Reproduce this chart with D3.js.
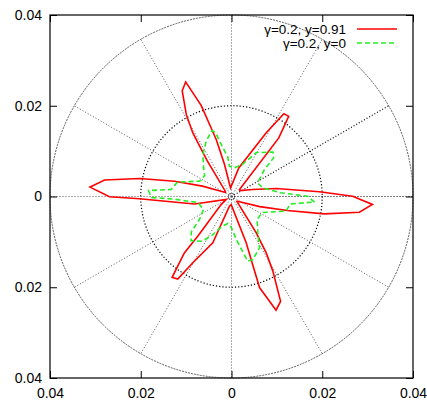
<!DOCTYPE html>
<html>
<head>
<meta charset="utf-8">
<script src="https://cdn.jsdelivr.net/npm/d3@7"></script>
<style>
body { margin: 0; background: #fff; }
text { font-family: "Liberation Sans", Arial, Helvetica, sans-serif; font-size: 14px; fill: #000; }
</style>
</head>
<body>
<svg width="427" height="400"></svg>
<script>
let svg = d3.select("svg");

// courbe 1 : angle (degres) et rayon
let redTheta = [322, 340.3, 346, 349.4, 353, 356.75, 360.1, 363.06, 370.1, 378.4, 394.6,
    401, 411.1, 414.5, 417.7, 421.4, 435.7, 456.6,
    462.3, 465, 468.4, 471.8, 475, 478.9, 481.3, 484.2, 499.5,
    506, 520.4, 525, 528.9, 532.6, 536.2, 540.1, 541.4, 545.9, 551.5, 569.5,
    577.8, 589.5, 590.1, 593.7, 596.9, 599.7, 608, 618,
    628, 647.6, 647.1, 651.4, 655.1, 659, 661.6, 664.2, 678.4, 682];
let redR = [0.0017, 0.0066, 0.0127, 0.0208, 0.0284, 0.0311, 0.0267, 0.0194, 0.0100, 0.0049, 0.0023,
    0.0023, 0.0166, 0.0217, 0.0216, 0.0160, 0.0065, 0.0019,
    0.0072, 0.0130, 0.0211, 0.0272, 0.0257, 0.0206, 0.0164, 0.0096, 0.0018,
    0.0016, 0.0068, 0.0130, 0.0206, 0.0282, 0.03125, 0.0269, 0.0203, 0.0123, 0.0083, 0.0013,
    0.0029, 0.0112, 0.0162, 0.0221, 0.0217, 0.0169, 0.0110, 0.0022,
    0.0018, 0.0107, 0.0210, 0.0269, 0.0255, 0.0188, 0.0146, 0.0097, 0.0016, 0.0017];

// courbe 2
let greenTheta = [356.2, 360.2, 364.3, 375.7, 387.8, 399.3, 402.5, 407, 420.5, 431.5, 445.4,
    453.8, 455.4, 461.2, 464, 466.5, 474.6, 484.3, 494.3, 502.1, 514.2,
    525, 533.4, 535.9, 540.7, 542.4, 550.2, 564.9,
    575.7, 581.4, 587.5, 596.6, 603.4, 612.3, 622.2,
    630, 636.6, 644.1, 648.7, 658.6, 665.9, 678, 692.3, 704.9, 712.8, 716.2];
let greenR = [0.01834, 0.01675, 0.0109, 0.0071, 0.0065, 0.0094, 0.0126, 0.0134, 0.0111, 0.0074, 0.0063,
    0.0067, 0.00875, 0.0117, 0.01454, 0.01517, 0.0134, 0.0112, 0.0088, 0.0075, 0.0078,
    0.0123, 0.0134, 0.01834, 0.01763, 0.0130, 0.0075, 0.0068,
    0.0087, 0.0118, 0.0132, 0.0118, 0.0096, 0.0069, 0.0060,
    0.0069, 0.00965, 0.0147, 0.01466, 0.0129, 0.0099, 0.0076, 0.0076, 0.0124, 0.0131, 0.01834];

let tickValues = [-0.04, -0.02, 0, 0.02, 0.04];
let tickLabels = ["0.04", "0.02", "0", "0.02", "0.04"];
let gridRadii = [0.02, 0.04];
let gridAngles = [0, 30, 60, 90, 120, 150, 180, 210, 240, 270, 300, 330];
let legendLabels = ["\u03b3=0.2, y=0.91", "\u03b3=0.2, y=0"];

let x = d3.scaleLinear().domain([-0.04, 0.04]).range([50, 413]);
let y = d3.scaleLinear().domain([-0.04, 0.04]).range([378, 15]);

function px(t, r) { return x(r * Math.cos(t * Math.PI / 180)); }
function py(t, r) { return y(r * Math.sin(t * Math.PI / 180)); }

// grille polaire
let grid = svg.append("g");
grid.selectAll("line.rayon")
    .data(gridAngles)
    .enter()
    .append("line")
    .attr("class", "rayon")
    .attr("x1", x(0)).attr("y1", y(0))
    .attr("x2", d => px(d, 0.04))
    .attr("y2", d => py(d, 0.04))
    .style("stroke", d => (d == 0 || d == 30) ? "#000" : "#555")
    .style("stroke-width", d => (d == 0 || d == 30) ? 1.2 : 1)
    .style("stroke-dasharray", "1,2");

grid.selectAll("circle.cercle")
    .data(gridRadii)
    .enter()
    .append("circle")
    .attr("class", "cercle")
    .attr("cx", x(0)).attr("cy", y(0))
    .attr("r", d => x(d) - x(0))
    .style("fill", "none")
    .style("stroke", d => d == 0.02 ? "#000" : "#333")
    .style("stroke-width", d => d == 0.02 ? 1.2 : 0.8)
    .style("stroke-dasharray", d => d == 0.02 ? "1.2,2" : "2,1");

grid.append("circle")
    .attr("cx", x(0)).attr("cy", y(0)).attr("r", 3)
    .style("fill", "none").style("stroke", "#000")
    .style("stroke-dasharray", "1,1");

// axes
let axes = svg.append("g");
axes.append("g")
    .attr("transform", "translate(" + x(-0.04) + ",0)")
    .call(d3.axisLeft(y).tickValues(tickValues).tickFormat((d, i) => tickLabels[i]).tickSize(-7).tickPadding(8));
axes.append("g")
    .attr("transform", "translate(" + x(0.04) + ",0)")
    .call(d3.axisRight(y).tickValues(tickValues).tickFormat("").tickSize(-7));
axes.append("g")
    .attr("transform", "translate(0," + y(-0.04) + ")")
    .call(d3.axisBottom(x).tickValues(tickValues).tickFormat((d, i) => tickLabels[i]).tickSize(-7).tickPadding(10));
axes.append("g")
    .attr("transform", "translate(0," + y(0.04) + ")")
    .call(d3.axisTop(x).tickValues(tickValues).tickFormat("").tickSize(-7));
axes.selectAll(".domain").remove();
axes.selectAll("text").style("font-size", "14px").style("font-family", "'Liberation Sans', Arial, sans-serif");
axes.selectAll(".tick line").style("stroke", "#000");

svg.append("rect")
    .attr("x", x(-0.04)).attr("y", y(0.04))
    .attr("width", x(0.04) - x(-0.04)).attr("height", y(-0.04) - y(0.04))
    .style("fill", "none").style("stroke", "#000").style("stroke-width", 1.2);

// courbes
let ligne = d3.line()
    .x(d => px(d[0], d[1]))
    .y(d => py(d[0], d[1]));

svg.append("path")
    .datum(redTheta.map((t, i) => [t, redR[i]]))
    .attr("d", ligne)
    .style("fill", "none").style("stroke", "#ff0000").style("stroke-width", 1.6)
    .style("stroke-linejoin", "miter");

svg.append("path")
    .datum(greenTheta.map((t, i) => [t, greenR[i]]))
    .attr("d", ligne)
    .style("fill", "none").style("stroke", "#22ee22").style("stroke-width", 1.6)
    .style("stroke-dasharray", "5,3");

// legende
let couleurs = ["#ff0000", "#22ee22"];
let legende = svg.append("g");
legende.selectAll("text")
    .data(legendLabels)
    .enter()
    .append("text")
    .attr("x", 346)
    .attr("y", (d, i) => 34 + i * 14)
    .attr("text-anchor", "end")
    .style("font-size", "13.5px")
    .text(d => d);
legende.selectAll("line")
    .data(legendLabels)
    .enter()
    .append("line")
    .attr("x1", 357).attr("x2", 397)
    .attr("y1", (d, i) => 29 + i * 14)
    .attr("y2", (d, i) => 29 + i * 14)
    .style("stroke", (d, i) => couleurs[i])
    .style("stroke-width", 1.6)
    .style("stroke-dasharray", (d, i) => i == 1 ? "5,3" : null);
</script>
</body>
</html>
